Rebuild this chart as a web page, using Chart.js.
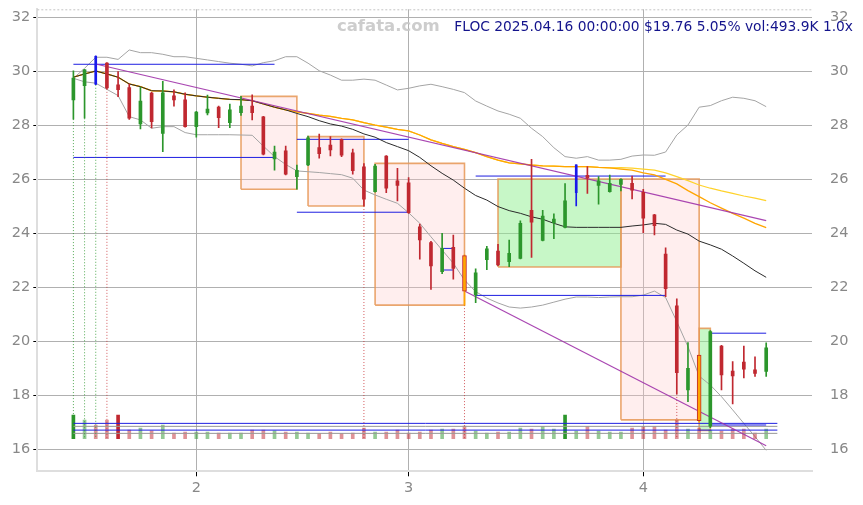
<!DOCTYPE html>
<html><head><meta charset="utf-8">
<script src="https://cdn.jsdelivr.net/npm/chart.js@4.4.1/dist/chart.umd.min.js"></script>
<style>html,body{margin:0;padding:0;background:#fff;} #wrap{width:863px;height:505px;position:relative;}</style>
</head><body><div id="wrap"><canvas id="c" width="863" height="505"></canvas></div>
<script>
// ---------- DATA ----------
const dates = [
 '2025-01-16','2025-01-17','2025-01-21','2025-01-22','2025-01-23','2025-01-24','2025-01-27','2025-01-28','2025-01-29','2025-01-30','2025-01-31',
 '2025-02-03','2025-02-04','2025-02-05','2025-02-06','2025-02-07','2025-02-10','2025-02-11','2025-02-12','2025-02-13','2025-02-14',
 '2025-02-18','2025-02-19','2025-02-20','2025-02-21','2025-02-24','2025-02-25','2025-02-26','2025-02-27','2025-02-28',
 '2025-03-03','2025-03-04','2025-03-05','2025-03-06','2025-03-07','2025-03-10','2025-03-11','2025-03-12','2025-03-13','2025-03-14',
 '2025-03-17','2025-03-18','2025-03-19','2025-03-20','2025-03-21','2025-03-24','2025-03-25','2025-03-26','2025-03-27','2025-03-28','2025-03-31',
 '2025-04-01','2025-04-02','2025-04-03','2025-04-04','2025-04-07','2025-04-08','2025-04-09','2025-04-10','2025-04-11','2025-04-14','2025-04-15','2025-04-16'
];
const openP  = [28.94,29.47,30.55,30.30,29.50,29.40,28.05,29.19,27.70,29.09, 28.94,27.95,28.46,28.67,28.10,28.47,28.71,28.31,26.75,27.05,
                26.10,26.53,27.17,27.27,27.48,26.98,26.46,25.54,26.86,25.94, 25.87,24.24,23.66,22.58,23.48,23.17,21.72,23.02,23.34,22.95,
                23.07,24.85,23.74,24.39,24.22,25.50,26.15,25.77,25.54,25.81, 25.85,25.52,24.68,23.23,21.31,18.20,19.49,16.86,19.82,18.90,
                19.23,18.94,18.88];
const highP  = [30.02,30.07,30.57,30.32,29.99,29.53,29.41,29.22,29.63,29.31, 29.20,28.52,29.12,28.71,28.79,29.07,29.13,28.33,27.23,27.23,
                26.53,27.60,27.67,27.58,27.50,27.12,26.58,26.55,26.88,26.41, 26.06,24.34,23.70,24.00,23.93,23.20,22.68,23.52,23.59,23.75,
                24.46,26.74,24.85,24.72,25.84,26.54,26.47,26.10,26.16,26.02, 26.12,25.63,24.70,23.46,21.57,19.95,19.50,20.40,19.85,19.25,
                19.82,19.42,19.94];
const lowP   = [28.23,28.26,29.50,29.35,29.06,28.22,27.87,27.90,27.02,28.71, 27.93,27.56,28.38,27.91,27.91,28.37,28.20,26.90,26.34,26.16,
                25.63,26.50,26.78,26.87,26.84,26.19,25.01,25.52,25.50,25.20, 24.74,23.04,21.92,22.50,22.30,21.34,21.43,22.65,22.80,22.76,
                23.05,23.11,23.72,23.80,24.20,25.01,25.48,25.08,25.52,25.57, 25.27,24.02,23.94,21.65,18.05,17.76,17.00,16.80,18.20,17.68,
                18.64,18.70,18.70];
const closeP = [29.75,30.05,29.52,29.38,29.32,28.26,28.90,28.13,29.20,28.94, 27.95,28.49,28.60,28.28,28.57,28.71,28.47,26.93,27.01,26.19,
                26.33,27.54,26.95,27.09,26.89,26.32,25.26,26.49,25.67,25.77, 24.76,23.75,22.79,23.44,22.70,21.86,22.54,23.42,22.83,23.26,
                24.37,24.41,24.64,24.53,25.20,26.54,26.05,25.94,25.85,26.00, 25.60,24.56,24.28,21.95,18.84,19.00,17.06,20.36,18.75,18.72,
                18.97,18.81,19.76];
const volumeK = [1206,952,697,952,1206,443,545,407,697,290, 341,341,341,290,290,290,443,443,407,341,
                 341,290,255,341,255,290,545,341,341,443, 290,341,443,494,494,646,392,290,341,341,
                 545,494,611,494,1206,392,611,392,341,341, 545,611,611,443,952,494,545,443,392,494,
                 494,290,494];
const bbUpper = [29.74,30.11,30.52,30.52,30.44,30.79,30.69,30.69,30.63,30.54, 30.54,30.48,30.42,30.36,30.30,30.26,30.20,30.32,30.39,30.54,
                 30.54,30.30,30.02,29.86,29.67,29.67,29.71,29.67,29.49,29.31, 29.37,29.46,29.52,29.43,29.33,29.21,28.90,28.71,28.53,28.41,
                 28.26,27.89,27.58,27.17,26.84,26.78,26.84,26.71,26.71,26.74, 26.86,26.90,26.89,27.01,27.64,28.01,28.67,28.73,28.91,29.04,
                 29.00,28.91,28.69];
const bbMiddle = [29.78,29.90,30.01,29.90,29.78,29.53,29.43,29.28,29.27,29.24, 29.15,29.09,29.04,29.00,28.96,28.95,28.91,28.79,28.67,28.57,
                 28.44,28.32,28.17,28.05,27.97,27.85,27.68,27.56,27.36,27.21, 27.06,26.81,26.50,26.22,25.97,25.67,25.40,25.23,24.99,24.84,
                 24.74,24.61,24.52,24.37,24.24,24.22,24.22,24.22,24.22,24.22, 24.27,24.31,24.37,24.33,24.12,23.97,23.71,23.57,23.41,23.16,
                 22.89,22.61,22.37];
const bbLower = [29.74,29.61,29.56,29.33,29.10,28.32,28.20,27.89,27.95,27.95, 27.73,27.65,27.65,27.65,27.65,27.64,27.63,27.23,26.84,26.55,
                 26.31,26.28,26.25,26.21,26.17,26.04,25.60,25.42,25.26,25.11, 24.76,24.37,23.87,23.38,22.89,22.27,21.84,21.60,21.42,21.27,
                 21.23,21.27,21.34,21.45,21.56,21.64,21.64,21.62,21.64,21.65, 21.65,21.71,21.86,21.62,20.73,19.80,18.71,18.38,17.95,17.46,
                 16.96,16.47,15.96];
const maOrange = [29.78,29.90,30.01,29.90,29.78,29.53,29.43,29.28,29.27,29.24, 29.15,29.09,29.04,29.00,28.96,28.95,28.91,28.79,28.67,28.57,
                 28.50,28.44,28.38,28.33,28.26,28.20,28.10,28.01,27.93,27.85, 27.79,27.64,27.46,27.33,27.21,27.11,26.99,26.84,26.71,26.61,
                 26.57,26.53,26.50,26.49,26.47,26.47,26.47,26.44,26.42,26.38, 26.34,26.24,26.16,26.00,25.83,25.58,25.36,25.13,24.93,24.74,
                 24.56,24.37,24.21];
const maYellow = [29.78,29.90,30.01,29.90,29.78,29.53,29.43,29.28,29.27,29.24, 29.15,29.09,29.04,29.00,28.96,28.95,28.91,28.79,28.67,28.57,
                 28.50,28.44,28.38,28.33,28.26,28.20,28.10,28.01,27.93,27.85, 27.79,27.64,27.46,27.33,27.21,27.11,26.99,26.84,26.71,26.61,
                 26.57,26.53,26.50,26.49,26.47,26.47,26.47,26.44,26.42,26.43, 26.41,26.38,26.34,26.24,26.10,25.95,25.79,25.67,25.57,25.48,
                 25.38,25.30,25.21];
const trendA = [[2,30.27],[62,24.47]];
const trendB = [[35,21.86],[62,16.13]];
const blueDays = [2,45];
const orangeDays = [35,56];
const heavyVolDays = [0,4,44];
const signalDays = [0,1,2,3,26,35,54];
const volBasePrice = 16.39;
const boxes = [
  {from:15,to:20,lo:25.63,hi:29.07,kind:'down'},
  {from:21,to:26,lo:25.01,hi:27.58,kind:'down'},
  {from:27,to:35,lo:21.34,hi:26.59,kind:'down'},
  {from:38,to:49,lo:22.75,hi:26.01,kind:'up'},
  {from:49,to:56,lo:17.09,hi:26.01,kind:'down'},
  {from:56,to:57,lo:16.70,hi:20.48,kind:'up'}
];
const levels = [
  {from:0,to:18,price:30.26,kind:'blue'},
  {from:0,to:18,price:26.81,kind:'blue'},
  {from:20,to:30,price:27.48,kind:'blue'},
  {from:20,to:30,price:24.78,kind:'blue'},
  {from:33,to:34,price:23.44,kind:'blue'},
  {from:33,to:34,price:22.64,kind:'blue'},
  {from:36,to:53,price:26.12,kind:'blue'},
  {from:36,to:53,price:21.70,kind:'blue'},
  {from:57,to:62,price:20.30,kind:'blue'},
  {from:57,to:62,price:16.90,kind:'blue'},
  {from:0,to:63,price:16.96,kind:'blue'},
  {from:0,to:63,price:16.85,kind:'gray'},
  {from:0,to:63,price:16.71,kind:'blue'},
  {from:0,to:63,price:16.59,kind:'gray'}
];
const yTicks = [16,18,20,22,24,26,28,30,32];
const titleText = 'FLOC 2025.04.16 00:00:00 $19.76 5.05% vol:493.9K 1.0x';
const watermarkText = 'cafata.com';

// ---------- STYLE ----------
const GREEN = 'rgb(44,150,44)', RED = 'rgb(192,40,48)', BLUE = 'rgb(25,25,235)', ORANGE = 'rgb(255,165,0)';
const FONT = '"DejaVu Sans", "Noto Sans", sans-serif';
const monthTicks = dates.map((d,i)=>i).filter(i=>i>0 && dates[i].slice(5,7)!==dates[i-1].slice(5,7));

function candleColor(i){
  if (blueDays.includes(i)) return BLUE;
  if (orangeDays.includes(i)) return ORANGE;
  return closeP[i] >= openP[i] ? GREEN : RED;
}
const idx = dates.map((d,i)=>i);
const normalIdx = idx.filter(i=>!blueDays.includes(i) && !orangeDays.includes(i));
const seriesPts = arr => arr.map((v,i)=>({x:i,y:v}));
const lineBase = {type:'line', pointRadius:0, pointHoverRadius:0, tension:0, fill:false, yAxisID:'y'};

const datasets = [];
boxes.forEach(b=>{
  datasets.push(Object.assign({}, lineBase, {
    data:[{x:b.from,y:b.lo},{x:b.from,y:b.hi},{x:b.to,y:b.hi},{x:b.to,y:b.lo},{x:b.from,y:b.lo}],
    borderColor:'rgba(230,150,85,0.85)', borderWidth:1.6,
    backgroundColor: b.kind==='up' ? 'rgba(144,240,144,0.5)' : 'rgba(255,200,200,0.3)',
    fill:'shape', order:100
  }));
});
datasets.push(Object.assign({}, lineBase, {data:seriesPts(bbUpper), borderColor:'#a4a4a4', borderWidth:1, order:90}));
datasets.push(Object.assign({}, lineBase, {data:seriesPts(bbLower), borderColor:'#a4a4a4', borderWidth:1, order:90}));
datasets.push({
  type:'bar', yAxisID:'yv', grouped:false, barThickness:3, order:80,
  data: volumeK.map((v,i)=>({x:i,y:v})),
  backgroundColor: volumeK.map((v,i)=>{
    const up = closeP[i] >= openP[i];
    const a = heavyVolDays.includes(i) ? 1 : 0.5;
    return up ? `rgba(44,150,44,${a})` : `rgba(192,40,48,${a})`;
  })
});
levels.forEach(l=>{
  datasets.push(Object.assign({}, lineBase, {
    data:[{x:l.from,y:l.price},{x:l.to,y:l.price}],
    borderColor: l.kind==='blue' ? 'rgb(30,30,225)' : '#969696', borderWidth:1, order:70
  }));
});
signalDays.forEach(i=>{
  const up = closeP[i] >= openP[i] || blueDays.includes(i);
  datasets.push(Object.assign({}, lineBase, {
    data:[{x:i,y:lowP[i]},{x:i,y:volBasePrice}],
    borderColor: up ? 'rgba(44,150,44,0.8)' : 'rgba(200,50,55,0.8)', borderWidth:1, borderDash:[1,2], order:60
  }));
});
datasets.push(Object.assign({}, lineBase, {data:seriesPts(maYellow), borderColor:'#ffd22a', borderWidth:1.2, order:53}));
datasets.push(Object.assign({}, lineBase, {data:seriesPts(maOrange), borderColor:'#ffa500', borderWidth:1.3, order:52}));
datasets.push(Object.assign({}, lineBase, {data:seriesPts(bbMiddle), borderColor:'#2a2a2a', borderWidth:1, order:51}));
datasets.push(Object.assign({}, lineBase, {data:trendA.map(p=>({x:p[0],y:p[1]})), borderColor:'rgba(160,50,170,0.9)', borderWidth:1.2, order:45}));
datasets.push(Object.assign({}, lineBase, {data:trendB.map(p=>({x:p[0],y:p[1]})), borderColor:'rgba(160,50,170,0.9)', borderWidth:1.2, order:45}));
datasets.push({
  type:'bar', yAxisID:'y', grouped:false, barThickness:1, order:20,
  data: idx.map(i=>({x:i,y:[lowP[i],highP[i]]})),
  backgroundColor: idx.map(candleColor)
});
datasets.push({
  type:'bar', yAxisID:'y', grouped:false, barThickness:3, minBarLength:1, order:10,
  data: normalIdx.map(i=>({x:i,y:[openP[i],closeP[i]]})),
  backgroundColor: normalIdx.map(candleColor)
});
datasets.push({
  type:'bar', yAxisID:'y', grouped:false, barThickness:4, order:9,
  data: orangeDays.map(i=>({x:i,y:[openP[i],closeP[i]]})),
  backgroundColor: ORANGE, borderColor: RED, borderWidth:1, borderSkipped:false
});
datasets.push({
  type:'bar', yAxisID:'y', grouped:false, barThickness:2, order:8,
  data: blueDays.map(i=>({x:i,y:[openP[i],closeP[i]]})),
  backgroundColor: BLUE
});

const decor = {
  id:'decor',
  beforeDatasetsDraw(chart){
    const {ctx, chartArea:a} = chart;
    ctx.save();
    ctx.strokeStyle = '#c4c4c4'; ctx.lineWidth = 1; ctx.setLineDash([2,2]);
    ctx.beginPath(); ctx.moveTo(a.left, a.top+0.5); ctx.lineTo(a.right, a.top+0.5); ctx.stroke();
    ctx.restore();
  },
  afterDraw(chart){
    const {ctx, width} = chart;
    ctx.save();
    ctx.textBaseline = 'alphabetic';
    ctx.font = 'bold 16.5px ' + FONT;
    ctx.fillStyle = 'rgba(200,200,200,0.9)';
    ctx.textAlign = 'center';
    ctx.fillText(watermarkText, width*0.45, 31);
    ctx.font = '13.8px ' + FONT;
    ctx.fillStyle = '#14148c';
    ctx.textAlign = 'right';
    ctx.fillText(titleText, width-10, 31);
    ctx.restore();
  }
};

const noPad = s => { s.paddingTop = 0; s.paddingBottom = 0; s.paddingLeft = 0; s.paddingRight = 0; };
const yRange = {min:15.185, max:32.296};
new Chart(document.getElementById('c'), {
  type:'bar',
  data:{datasets},
  plugins:[decor],
  options:{
    responsive:false, animation:false, devicePixelRatio:1,
    layout:{padding:{top:9.3, left:0, right:0, bottom:0}},
    plugins:{legend:{display:false}, tooltip:{enabled:false}},
    scales:{
      x:{
        type:'linear', min:-3.23, max:66.1, position:'bottom', offset:false,
        afterBuildTicks: s => { s.ticks = monthTicks.map(v=>({value:v})); },
        afterFit: s => { s.height = 33.7; noPad(s); },
        ticks:{ color:'#888', font:{family:FONT, size:14.5}, padding:3, autoSkip:false, maxRotation:0,
          callback: v => String(parseInt(dates[v].slice(5,7),10)) },
        grid:{ offset:false, color:'#b0b0b0', lineWidth:1, tickColor:'#000', tickLength:5 },
        border:{ color:'#dedede', width:2 }
      },
      y:{
        type:'linear', position:'left', min:yRange.min, max:yRange.max,
        afterBuildTicks: s => { s.ticks = yTicks.map(v=>({value:v})); },
        afterFit: s => { s.width = 37.3; noPad(s); },
        ticks:{ color:'#888', font:{family:FONT, size:14.5}, padding:3, callback: v => String(v) },
        grid:{ color:'#b0b0b0', lineWidth:1, tickColor:'#000', tickLength:4 },
        border:{ color:'#dedede', width:2 }
      },
      y2:{
        type:'linear', position:'right', min:yRange.min, max:yRange.max,
        afterBuildTicks: s => { s.ticks = yTicks.map(v=>({value:v})); },
        afterFit: s => { s.width = 51; noPad(s); },
        ticks:{ color:'#888', font:{family:FONT, size:14.5}, padding:10, callback: v => String(v) },
        grid:{ display:false, drawOnChartArea:false },
        border:{ display:false }
      },
      yv:{ type:'linear', display:false, min:-1659, max:21857 }
    }
  }
});
</script></body></html>
